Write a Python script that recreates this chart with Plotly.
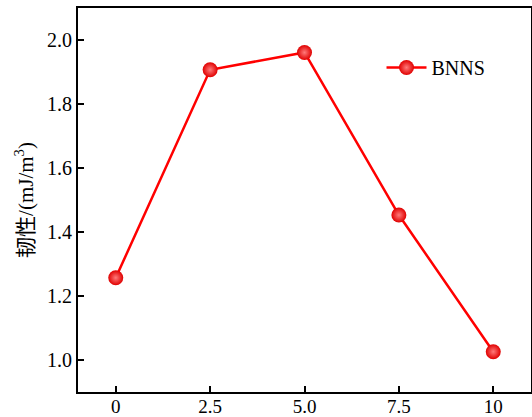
import plotly.graph_objects as go

# BNNS content vs. toughness
bnns_content = [0, 2.5, 5.0, 7.5, 10]
toughness = [1.257, 1.907, 1.961, 1.453, 1.026]
x_tick_vals = [0, 2.5, 5.0, 7.5, 10]
x_tick_text = ["0", "2.5", "5.0", "7.5", "10"]
y_tick_vals = [1.0, 1.2, 1.4, 1.6, 1.8, 2.0]
y_tick_text = ["1.0", "1.2", "1.4", "1.6", "1.8", "2.0"]

serif = "Liberation Serif, Times New Roman, serif"

fig = go.Figure()
fig.add_trace(go.Scatter(
    x=bnns_content,
    y=toughness,
    mode="lines+markers",
    name="BNNS",
    line=dict(color="#ff0000", width=2.5),
    marker=dict(
        size=15,
        color="#e00000",
        gradient=dict(type="radial", color="#ff7a7a"),
        line=dict(width=0),
    ),
))

axis_common = dict(
    showline=True,
    linecolor="black",
    linewidth=2,
    mirror=True,
    ticks="inside",
    ticklen=6,
    tickwidth=2,
    tickcolor="black",
    showgrid=False,
    zeroline=False,
    automargin=False,
)

fig.update_layout(
    width=532,
    height=417,
    margin=dict(l=78, r=1, t=8, b=25),
    paper_bgcolor="white",
    plot_bgcolor="white",
    showlegend=True,
    legend=dict(
        x=0.67, y=0.845, xanchor="left", yanchor="middle",
        itemwidth=40,
        bgcolor="rgba(0,0,0,0)",
        font=dict(family=serif, size=20, color="black"),
    ),
    xaxis=dict(
        range=[-1, 11],
        tickmode="array",
        tickvals=x_tick_vals,
        ticktext=x_tick_text,
        tickfont=dict(family=serif, size=19, color="black"),
        ticklabelstandoff=-4,
        **axis_common,
    ),
    yaxis=dict(
        range=[0.9, 2.1],
        tickmode="array",
        tickvals=y_tick_vals,
        ticktext=y_tick_text,
        tickfont=dict(family=serif, size=20, color="black"),
        title=dict(
            text="韧性/(mJ/m<sup>3</sup>)",
            font=dict(family="Liberation Serif, Noto Sans CJK SC", size=21, color="black"),
            standoff=8,
        ),
        **axis_common,
    ),
)

fig.write_html("out.html")
